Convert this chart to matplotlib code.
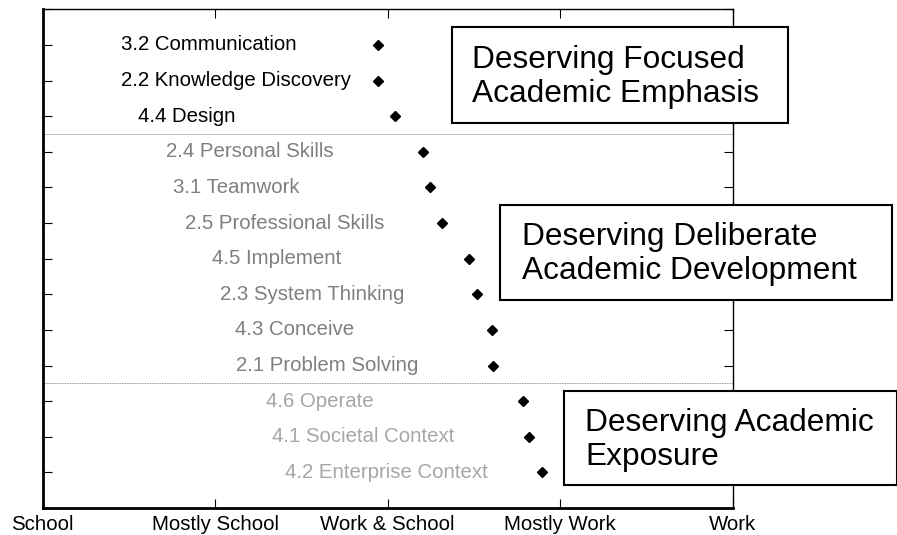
import matplotlib.pyplot as plt
from matplotlib.patches import Rectangle

plt.rcParams['font.family'] = ['Liberation Sans', 'DejaVu Sans']

# outcome labels, top to bottom
skills = ['3.2 Communication', '2.2 Knowledge Discovery', '4.4 Design',
          '2.4 Personal Skills', '3.1 Teamwork', '2.5 Professional Skills',
          '4.5 Implement', '2.3 System Thinking', '4.3 Conceive',
          '2.1 Problem Solving', '4.6 Operate', '4.1 Societal Context',
          '4.2 Enterprise Context']
# 0 = School ... 4 = Work
scores = [1.945, 1.945, 2.042, 2.206, 2.245, 2.313, 2.471, 2.519, 2.603,
          2.612, 2.786, 2.821, 2.896]
groups = [0, 0, 0, 1, 1, 1, 1, 1, 1, 1, 2, 2, 2]
xlabels = ['School', 'Mostly School', 'Work & School', 'Mostly Work', 'Work']
boxes = ['Deserving Focused\nAcademic Emphasis',
         'Deserving Deliberate\nAcademic Development',
         'Deserving Academic\nExposure']

group_colors = ['black', '#7f7f7f', '#a6a6a6']

W, H = 897, 535
fig = plt.figure(figsize=(W / 100, H / 100), dpi=100)
ax = fig.add_axes([42.7 / W, 1 - 508 / H, 690 / W, (508 - 9.3) / H])

ypos = list(range(1, len(skills) + 1))
ax.plot(scores, ypos, 'D', color='black', markersize=4.8, linestyle='none')

for s, y, g, lab in zip(scores, ypos, groups, skills):
    ax.text(s - 1.49, y, lab, ha='left', va='center', fontsize=14.7,
            color=group_colors[g])

for yb in [3.5, 10.5]:
    ax.axhline(yb, color='#707070', lw=0.6, ls=(0, (1, 1)))

ax.set_xlim(0, 4)
ax.set_ylim(14, 0)
ax.set_xticks(range(5))
ax.set_xticklabels(xlabels, fontsize=14.7)
ax.set_yticks(range(15))
ax.set_yticklabels([])
ax.tick_params(direction='in', length=6.5, width=0.8, top=True, right=True, pad=5)
ax.spines['left'].set_linewidth(2)
ax.spines['bottom'].set_linewidth(2)
ax.spines['top'].set_linewidth(1)
ax.spines['right'].set_linewidth(1)

# annotation boxes in pixel coords: left, top, right, bottom, text x
box_geom = [(452.3, 26.7, 788.3, 123.3, 471.7),
            (500, 205, 891.7, 299.5, 521.7),
            (564, 391, 896.5, 484.5, 585)]
for (l, t, r, b, tx), txt in zip(box_geom, boxes):
    fig.patches.append(Rectangle((l / W, 1 - b / H), (r - l) / W, (b - t) / H,
                                 transform=fig.transFigure, facecolor='white',
                                 edgecolor='black', lw=1.5, zorder=2))
    fig.text(tx / W, 1 - ((t + b) / 2 + 2) / H, txt, ha='left', va='center',
             fontsize=22.8, linespacing=1.18, zorder=3)

fig.savefig('out.png', dpi=100)
